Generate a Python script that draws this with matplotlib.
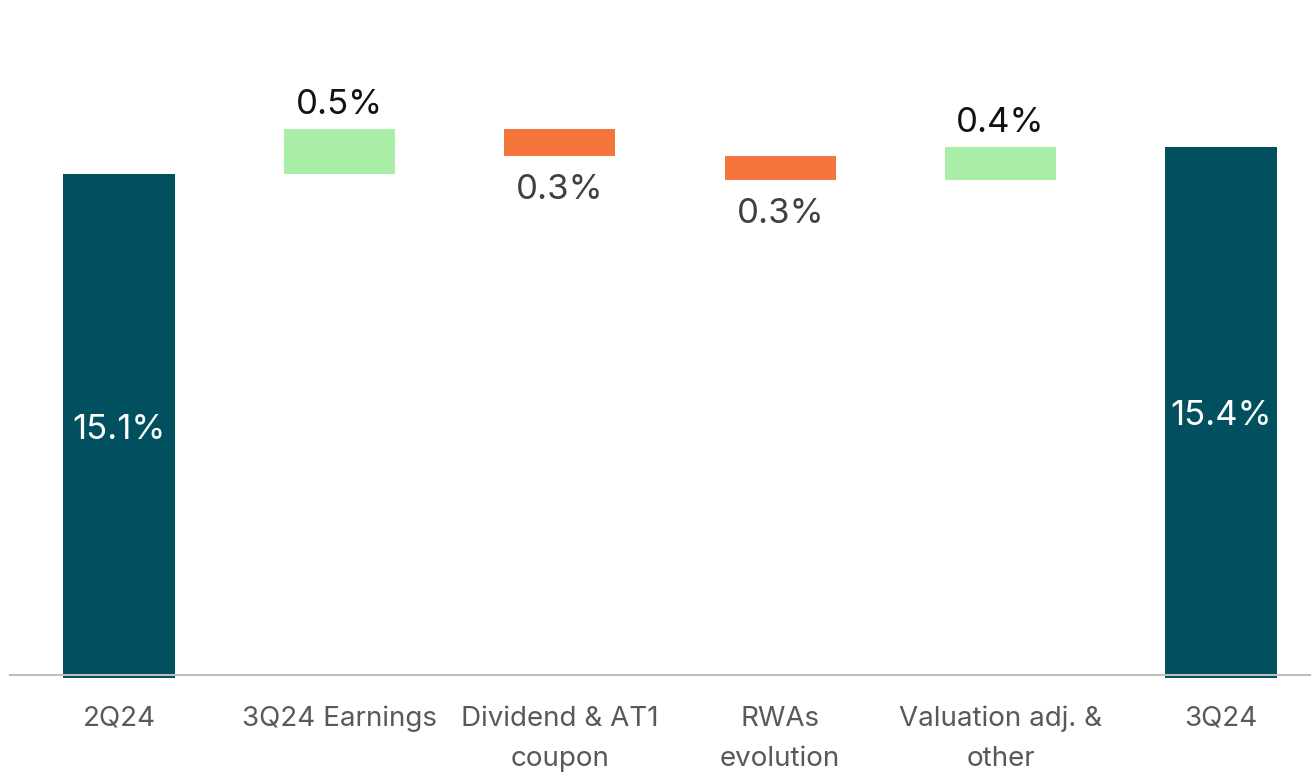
import matplotlib.pyplot as plt

# data
categories = ['2Q24', '3Q24 Earnings', 'Dividend & AT1\ncoupon', 'RWAs\nevolution',
              'Valuation adj. &\nother', '3Q24']
start_value = 15.1
end_value = 15.4
deltas = [0.50, -0.30, -0.27, 0.37]
labels = ['15.1%', '0.5%', '0.3%', '0.3%', '0.4%', '15.4%']

teal = '#00505F'
green = '#A8EEA6'
orange = '#F4763C'

plt.rcParams['font.family'] = ['Inter', 'DejaVu Sans']

fig = plt.figure(figsize=(13.11, 7.73), dpi=100)
ax = fig.add_axes([9 / 1311, 1 - 678 / 773, 1302 / 1311, 678 / 773])

floor = 9.5
width = 0.505
step_px = 220.4

# totals
ax.bar(0, start_value - floor, bottom=floor, width=width, color=teal)
ax.bar(5, end_value - floor, bottom=floor, width=width, color=teal)
ax.text(0, (start_value + floor) / 2 - 0.05, labels[0], ha='center', va='center',
        color='white', fontsize=25)
ax.text(5, (end_value + floor) / 2 - 0.04, labels[5], ha='center', va='center',
        color='white', fontsize=25)

# steps
level = start_value
for i, d in enumerate(deltas):
    x = i + 1
    lo = min(level, level + d)
    ax.bar(x, abs(d), bottom=lo, width=width, color=green if d > 0 else orange)
    if d > 0:
        ax.text(x, level + d + 0.09, labels[x], ha='center', va='bottom',
                color='#111111', fontsize=25)
    else:
        ax.text(x, level + d - 0.2, labels[x], ha='center', va='top',
                color='#404040', fontsize=25)
    level += d

ax.axhline(floor + 0.035, color='#BFBFBF', lw=1.5)

left = -110 / step_px
ax.set_xlim(left, left + 1302 / step_px)
ax.set_ylim(floor, floor + 678 / 90)
ax.set_xticks(range(len(categories)))
ax.set_xticklabels(categories, fontsize=20, color='#595959', linespacing=1.7)
ax.tick_params(axis='x', length=0, pad=20)
ax.set_yticks([])
for s in ax.spines.values():
    s.set_visible(False)

fig.savefig('out.png', dpi=100)
